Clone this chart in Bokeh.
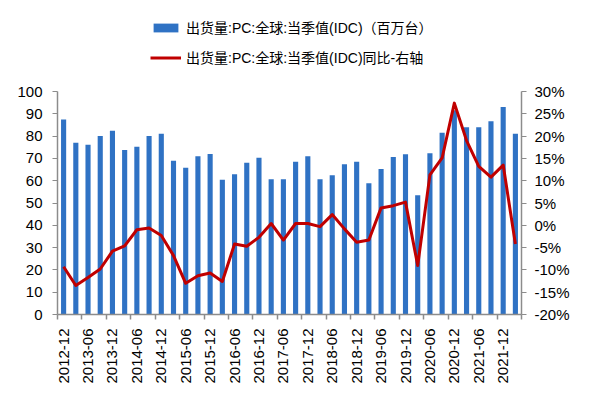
from math import pi
from bokeh.plotting import figure
from bokeh.models import (Range1d, LinearAxis, FixedTicker, PrintfTickFormatter,
                          Legend, LegendItem, ColumnDataSource)
from bokeh.embed import file_html
from bokeh.resources import INLINE

quarters = ["2012-12", "2013-03", "2013-06", "2013-09", "2013-12", "2014-03", "2014-06",
            "2014-09", "2014-12", "2015-03", "2015-06", "2015-09", "2015-12", "2016-03",
            "2016-06", "2016-09", "2016-12", "2017-03", "2017-06", "2017-09", "2017-12",
            "2018-03", "2018-06", "2018-09", "2018-12", "2019-03", "2019-06", "2019-09",
            "2019-12", "2020-03", "2020-06", "2020-09", "2020-12", "2021-03", "2021-06",
            "2021-09", "2021-12", "2022-03"]
shipments = [87.5, 77.0, 76.1, 80.1, 82.4, 73.8, 75.2, 80.1, 81.0, 68.9,
             65.8, 71.0, 72.0, 60.4, 62.9, 68.0, 70.3, 60.7, 60.7, 68.5,
             71.0, 60.7, 62.5, 67.4, 68.5, 58.9, 65.3, 70.6, 71.9, 53.5,
             72.3, 81.5, 91.6, 84.0, 84.0, 86.7, 93.0, 81.0]
yoy = [-9.3, -13.5, -11.7, -9.8, -5.8, -4.6, -1.0, -0.6, -2.3, -6.8,
       -13.0, -11.3, -10.7, -12.6, -4.2, -4.7, -2.7, 0.4, -3.3, 0.4,
       0.4, -0.3, 2.4, -0.8, -3.8, -3.3, 3.9, 4.4, 5.2, -9.0,
       11.3, 15.1, 27.4, 19.0, 13.2, 10.8, 13.5, -4.2]
left_ticks = [0, 10, 20, 30, 40, 50, 60, 70, 80, 90, 100]
right_ticks = [-20, -15, -10, -5, 0, 5, 10, 15, 20, 25, 30]
bar_label = "出货量:PC:全球:当季值(IDC)（百万台）"
line_label = "出货量:PC:全球:当季值(IDC)同比-右轴"

FONT = "Liberation Sans, Arial, Noto Sans CJK SC"
AXIS_COLOR = "#8c8c8c"
TEXT_COLOR = "#000000"

# layout (pixels): axes span 223 px; frame extended upward to host the legend
AXIS_PX = 223
FRAME_PX = 303
ext = FRAME_PX / AXIS_PX
lo, hi = left_ticks[0], left_ticks[-1]
rlo, rhi = right_ticks[0], right_ticks[-1]

idx = list(range(len(quarters)))
src = ColumnDataSource(dict(x=idx, q=quarters, ship=shipments, yoy=yoy))

p = figure(width=581, height=391, output_backend="svg", toolbar_location=None,
           x_range=Range1d(-0.5, len(quarters) - 0.5),
           y_range=Range1d(lo, lo + (hi - lo) * ext),
           min_border_left=57, min_border_right=60, min_border_top=391 - 77 - FRAME_PX,
           min_border_bottom=77)
p.xgrid.visible = False
p.ygrid.visible = False
p.outline_line_color = None
p.background_fill_color = "white"
p.border_fill_color = "white"
p.extra_y_ranges = {"pct": Range1d(rlo, rlo + (rhi - rlo) * ext)}

bars = p.vbar(x="x", top="ship", width=0.42, source=src,
              fill_color="#2F72C4", line_color=None)
line = p.line(x="x", y="yoy", source=src, y_range_name="pct",
              line_color="#C00000", line_width=3, line_join="round")

# x axis
xa = p.xaxis[0]
label_pos = idx[::2]
xa.ticker = FixedTicker(ticks=label_pos,
                        minor_ticks=[i - 0.5 for i in range(0, len(quarters) + 1, 2)])
xa.major_label_overrides = {i: quarters[i] for i in label_pos}
xa.major_label_orientation = pi / 2
xa.major_tick_line_color = None
xa.minor_tick_out = 5
xa.minor_tick_in = 0
xa.minor_tick_line_color = AXIS_COLOR
xa.minor_tick_line_width = 1.5
xa.axis_line_color = AXIS_COLOR
xa.axis_line_width = 1.5
xa.major_label_text_font = FONT
xa.major_label_text_font_size = "15px"
xa.major_label_text_color = TEXT_COLOR
xa.major_label_standoff = 8

# left axis
ya = p.yaxis[0]
ya.ticker = FixedTicker(ticks=left_ticks)
ya.bounds = (lo, hi)
ya.major_tick_out = 5
ya.major_tick_in = 0
ya.minor_tick_line_color = None
ya.major_tick_line_color = AXIS_COLOR
ya.axis_line_color = AXIS_COLOR
ya.axis_line_width = 1.5
ya.major_label_text_font = FONT
ya.major_label_text_font_size = "15px"
ya.major_label_text_color = TEXT_COLOR
ya.major_label_standoff = 10

# right axis
ra = LinearAxis(y_range_name="pct", ticker=FixedTicker(ticks=right_ticks),
                formatter=PrintfTickFormatter(format="%d%%"), bounds=(rlo, rhi))
ra.major_tick_out = 5
ra.major_tick_in = 0
ra.minor_tick_line_color = None
ra.major_tick_line_color = AXIS_COLOR
ra.axis_line_color = AXIS_COLOR
ra.axis_line_width = 1.5
ra.major_label_text_font = FONT
ra.major_label_text_font_size = "15px"
ra.major_label_text_color = TEXT_COLOR
ra.major_label_standoff = 8
p.add_layout(ra, "right")

legend = Legend(items=[LegendItem(label=bar_label, renderers=[bars]),
                       LegendItem(label=line_label, renderers=[line])],
                location=(93, 247), orientation="vertical",
                glyph_width=31, glyph_height=11, label_height=20,
                label_standoff=5, spacing=10, padding=0, margin=0,
                border_line_color=None, background_fill_alpha=0,
                label_text_font=FONT, label_text_font_size="14px",
                label_text_color=TEXT_COLOR)
p.add_layout(legend, "center")

open("out.html", "w").write(file_html(p, INLINE))
